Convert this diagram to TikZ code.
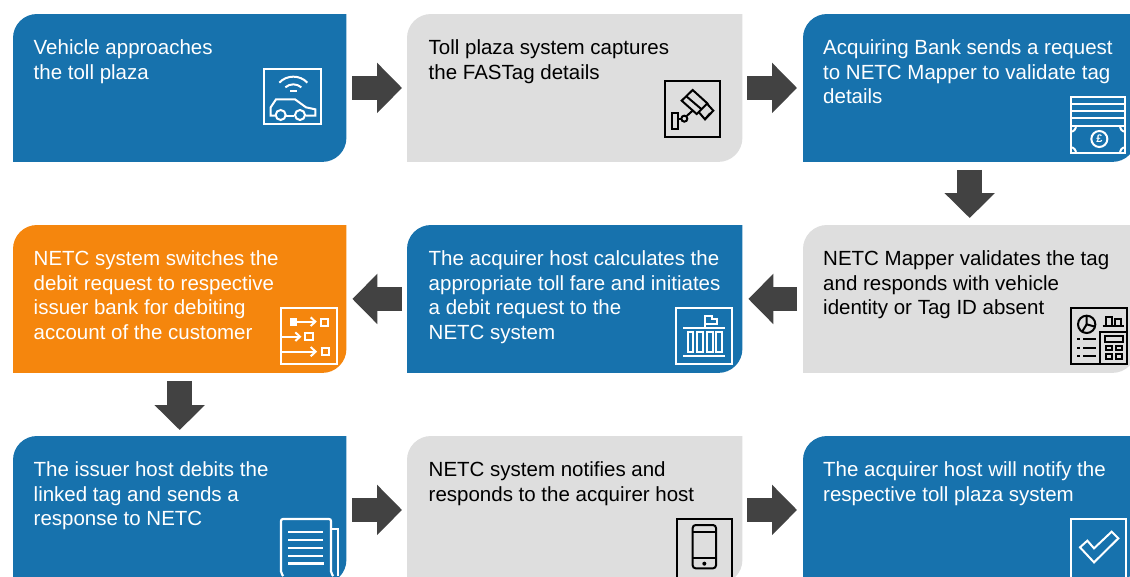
\documentclass[tikz,border=0pt]{standalone}
\usepackage{fontspec}
\setmainfont{Liberation Sans}
\usetikzlibrary{arrows.meta}
\definecolor{netblue}{RGB}{23,114,173}
\definecolor{netgrey}{RGB}{222,222,222}
\definecolor{netorange}{RGB}{245,134,13}
\definecolor{netarrow}{RGB}{66,66,66}
\tikzset{
  boxshape/.style={rectangle,inner sep=0pt,minimum width=333pt,minimum height=147.5pt,anchor=north west},
  midcol/.style={minimum width=335pt},
  flowtext/.style={anchor=north west,inner sep=0pt,align=left,font=\fontsize{20.5}{24.7}\selectfont},
  flow/.style={draw=netarrow,line width=24.5pt,-{Triangle[length=25pt,width=49pt]}},
  iconw/.style={draw=white,line width=2pt,line join=miter},
  iconk/.style={draw=black,line width=2pt,line join=miter},
  frame/.style={line width=2.2pt},
  zoomed/.style={shift={#1},x=0.33333pt,y=-0.33333pt}
}
\newcommand{\netbox}[5][]{%
  \node[boxshape,#1] (#2) at (#3,#4) {};
  \fill[#5] (#2.south west) [rounded corners=24pt] -- (#2.north west) [sharp corners] -- (#2.north east) [rounded corners=24pt] -- (#2.south east) [sharp corners] -- cycle;
}
\begin{document}
\begin{tikzpicture}[x=1pt,y=-1pt]
\useasboundingbox (0,0) rectangle (1130,576);
\clip (0,0) rectangle (1130,576);
\fill[white] (0,0) rectangle (1130,576);

\netbox{b1}{13}{14}{netblue}
\netbox[midcol]{b2}{407}{14}{netgrey}
\netbox{b3}{803}{14}{netblue}
\netbox{b4}{803}{225}{netgrey}
\netbox[midcol]{b5}{407}{225}{netblue}
\netbox{b6}{13}{225}{netorange}
\netbox{b7}{13}{436}{netblue}
\netbox[midcol]{b8}{407}{436}{netgrey}
\netbox{b9}{803}{436}{netblue}

\node[flowtext,text=white] (t1) at (33.5,39.5) {Vehicle approaches\\the toll plaza};
\node[flowtext,text=black] (t2) at (428.5,39.5) {Toll plaza system captures\\the FASTag details};
\node[flowtext,text=white] (t3) at (823,39.5) {Acquiring Bank sends a request\\to NETC Mapper to validate tag\\details};
\node[flowtext,text=black] (t4) at (823,250.5) {NETC Mapper validates the tag\\and responds with vehicle\\identity or Tag ID absent};
\node[flowtext,text=white] (t5) at (428.5,250.5) {The acquirer host calculates the\\appropriate toll fare and initiates\\a debit request to the\\NETC system};
\node[flowtext,text=white] (t6) at (33.5,250.5) {NETC system switches the\\debit request to respective\\issuer bank for debiting\\account of the customer};
\node[flowtext,text=white] (t7) at (33.5,461.5) {The issuer host debits the\\linked tag and sends a\\response to NETC};
\node[flowtext,text=black] (t8) at (428.5,461.5) {NETC system notifies and\\responds to the acquirer host};
\node[flowtext,text=white] (t9) at (823,461.5) {The acquirer host will notify the\\respective toll plaza system};

\draw[flow,shorten <=6pt,shorten >=5pt] (b1.east) -- (b2.west);
\draw[flow,shorten <=5pt,shorten >=6pt] (b2.east) -- (b3.west);
\draw[flow,shorten <=8pt,shorten >=7pt] (b3.south) -- (b4.north);
\draw[flow,shorten <=6pt,shorten >=6pt] (b4.west) -- (b5.east);
\draw[flow,shorten <=5pt,shorten >=6pt] (b5.west) -- (b6.east);
\draw[flow,shorten <=8pt,shorten >=6pt] (b6.south) -- (b7.north);
\draw[flow,shorten <=6pt,shorten >=5pt] (b7.east) -- (b8.west);
\draw[flow,shorten <=5pt,shorten >=6pt] (b8.east) -- (b9.west);

% icon 1: car with signal
\begin{scope}[zoomed={(240,50)}]
\draw[iconw,frame] (73,57) rectangle (244,222);
\draw[iconw] (118,98) .. controls (140,74) and (180,74) .. (202,98);
\draw[iconw] (136,112) .. controls (150,100) and (170,100) .. (184,112);
\draw[iconw] (150,124) -- (170,124);
\draw[iconw] (105,197) -- (92,197) -- (92,172) -- (108,148) -- (165,148) -- (198,172) -- (226,178) -- (226,197) -- (197,197);
\draw[iconw] (139,197) -- (163,197);
\draw[iconw] (122,195) circle [radius=15];
\draw[iconw] (180,195) circle [radius=15];
\end{scope}

% icon 2: camera
\begin{scope}[zoomed={(650,70)}]
\draw[iconk,frame] (44,32) rectangle (211,201);
\draw[iconk] (95,92) -- (128,60) -- (172,100) -- (140,132) -- cycle;
\draw[iconk] (108,78) -- (155,118);
\draw[iconk] (146,126) -- (165,148) -- (190,122) -- (170,100);
\draw[iconk] (165,148) -- (180,130);
\draw[iconk] (110,138) -- (130,120);
\draw[iconk] (103,146) circle [radius=9];
\draw[iconk] (67,128) rectangle (85,177);
\draw[iconk] (85,147) -- (94,147);
\end{scope}

% icon 3: stacked banknote
\begin{scope}[zoomed={(1050,85)}]
\draw[iconw,frame] (62,37) rectangle (226,205);
\foreach \yy in {58,79,100,122} \draw[iconw] (62,\yy) -- (226,\yy);
\draw[iconw] (62,140) .. controls (72,140) and (78,132) .. (78,122);
\draw[iconw] (226,140) .. controls (216,140) and (210,132) .. (210,122);
\draw[iconw] (62,187) .. controls (72,187) and (78,195) .. (78,205);
\draw[iconw] (226,187) .. controls (216,187) and (210,195) .. (210,205);
\draw[iconw] (148,162) circle [radius=24];
\node[text=white,inner sep=0pt,font=\fontsize{11}{11}\selectfont\bfseries] (pound) at (148,162) {£};
\end{scope}

% icon 4: report and calculator
\begin{scope}[zoomed={(1050,295)}]
\draw[iconk,frame] (62,38) rectangle (230,208);
\draw[iconk] (110,88) circle [radius=26];
\draw[iconk] (110,62) -- (110,88) -- (135,95);
\draw[iconk] (110,88) -- (95,112);
\draw[iconk] (158,92) -- (222,92);
\draw[iconk] (168,92) -- (168,65) -- (185,65) -- (185,92);
\draw[iconk] (195,92) -- (195,72) -- (212,72) -- (212,92);
\foreach \yy in {133,158,183} {
  \draw[iconk] (82,\yy) -- (90,\yy);
  \draw[iconk] (100,\yy) -- (138,\yy);
}
\draw[iconk] (150,208) -- (150,110) -- (230,110);
\draw[iconk] (165,122) rectangle (218,140);
\draw[iconk] (168,152) rectangle (185,165);
\draw[iconk] (198,152) rectangle (215,165);
\draw[iconk] (168,178) rectangle (185,192);
\draw[iconk] (198,178) rectangle (215,192);
\end{scope}

% icon 5: bank building
\begin{scope}[zoomed={(665,295)}]
\draw[iconw,frame] (33,38) rectangle (202,208);
\draw[iconw] (120,100) -- (120,62) -- (140,62) -- (140,72) -- (155,72) -- (155,88) -- (120,88);
\draw[iconw] (55,100) -- (180,100);
\draw[iconw] (55,184) -- (180,184);
\draw[iconw] (68,112) rectangle (85,172);
\draw[iconw] (97,112) rectangle (115,172);
\draw[iconw] (127,112) rectangle (143,172);
\draw[iconw] (153,112) rectangle (170,172);
\end{scope}

% icon 6: switching
\begin{scope}[zoomed={(270,295)}]
\draw[iconw,frame] (33,38) rectangle (202,208);
\fill[white] (59,69) rectangle (81,93);
\draw[iconw] (80,80) -- (135,80);
\draw[iconw] (122,67) -- (136,80) -- (122,93);
\draw[iconw] (153,71) rectangle (175,92);
\draw[iconw] (33,125) -- (88,125);
\draw[iconw] (76,112) -- (90,125) -- (76,138);
\draw[iconw] (106,114) rectangle (128,135);
\draw[iconw] (33,170) -- (135,170);
\draw[iconw] (122,156) -- (137,170) -- (122,184);
\draw[iconw] (155,158) rectangle (178,180);
\end{scope}

% icon 7: document
\begin{scope}[zoomed={(270,505)}]
\draw[iconw,frame,rounded corners=2pt] (40,213) -- (33,205) -- (33,42) -- (183,42) -- (183,205) -- (190,213);
\draw[iconw] (183,72) -- (205,72) -- (205,213);
\foreach \yy in {80,105,128,152} \draw[iconw] (55,\yy) -- (160,\yy);
\draw[iconw,line width=2.8pt] (55,176) -- (162,176);
\end{scope}

% icon 8: phone
\begin{scope}[zoomed={(665,505)}]
\draw[iconk,frame] (35,43) rectangle (200,240);
\draw[iconk,rounded corners=3pt] (83,60) rectangle (153,190);
\draw[iconk] (83,82) -- (153,82);
\draw[iconk] (83,160) -- (153,160);
\fill[black] (118,176) circle [radius=6];
\end{scope}

% icon 9: tick
\begin{scope}[zoomed={(1050,505)}]
\draw[iconw,frame] (62,42) rectangle (228,240);
\draw[iconw] (90,127) -- (112,107) -- (132,130) -- (185,80) -- (205,100) -- (132,172) -- cycle;
\end{scope}
\end{tikzpicture}
\end{document}
